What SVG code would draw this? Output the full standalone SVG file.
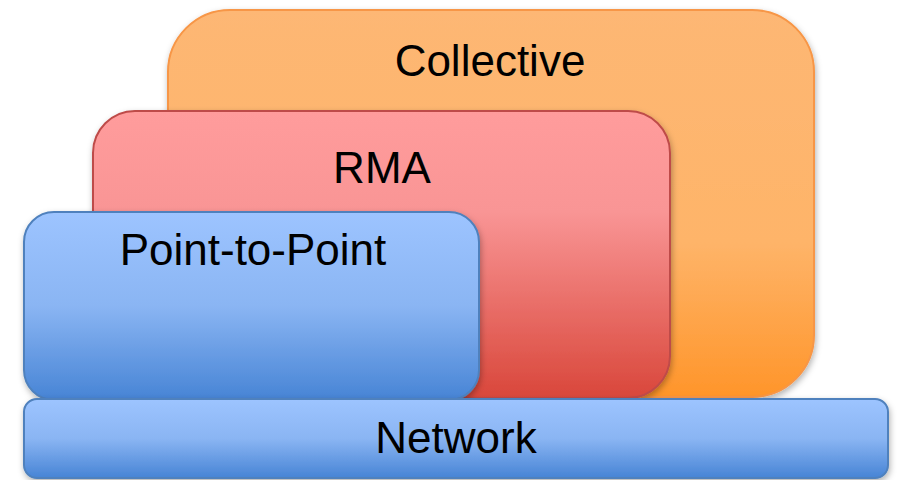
<svg xmlns="http://www.w3.org/2000/svg" width="902" height="480" viewBox="0 0 902 480">
<style>
.lbl{font-family:"Liberation Sans",Arial,sans-serif;font-size:44px;fill:#000;text-anchor:middle}
</style>
<defs>
<linearGradient id="gOr" x1="0" y1="0" x2="0" y2="1">
<stop offset="0" stop-color="#FDB774"/><stop offset="0.6" stop-color="#FEB469"/><stop offset="1" stop-color="#FF952A"/>
</linearGradient>
<linearGradient id="gRd" x1="0" y1="0" x2="0" y2="1">
<stop offset="0" stop-color="#FF9C9C"/><stop offset="0.35" stop-color="#F99595"/><stop offset="1" stop-color="#D9473B"/>
</linearGradient>
<linearGradient id="gBl" x1="0" y1="0" x2="0" y2="1">
<stop offset="0" stop-color="#9DC4FF"/><stop offset="0.5" stop-color="#8AB5F3"/><stop offset="1" stop-color="#4784D5"/>
</linearGradient>
<filter id="sh" x="-10%" y="-10%" width="120%" height="130%">
<feDropShadow dx="1" dy="3" stdDeviation="3" flood-color="#000" flood-opacity="0.3"/>
</filter>
</defs>
<g id="collective">
<rect x="168" y="10" width="646" height="387" rx="62" fill="url(#gOr)" stroke="#F79646" stroke-width="2" filter="url(#sh)"/>
<text class="lbl" x="490" y="76">Collective</text>
</g>
<g id="rma">
<rect x="93" y="111" width="577" height="287" rx="42" fill="url(#gRd)" stroke="#BE4B48" stroke-width="2" filter="url(#sh)"/>
<text class="lbl" x="382" y="183">RMA</text>
</g>
<g id="p2p">
<rect x="24" y="212" width="455" height="188" rx="30" fill="url(#gBl)" stroke="#4F81BD" stroke-width="2" filter="url(#sh)"/>
<text class="lbl" x="253" y="265">Point-to-Point</text>
</g>
<g id="network">
<rect x="24" y="399" width="864" height="79" rx="13" fill="url(#gBl)" stroke="#4F81BD" stroke-width="2" filter="url(#sh)"/>
<text class="lbl" x="456" y="453">Network</text>
</g>
<g id="connectors"/>
</svg>
